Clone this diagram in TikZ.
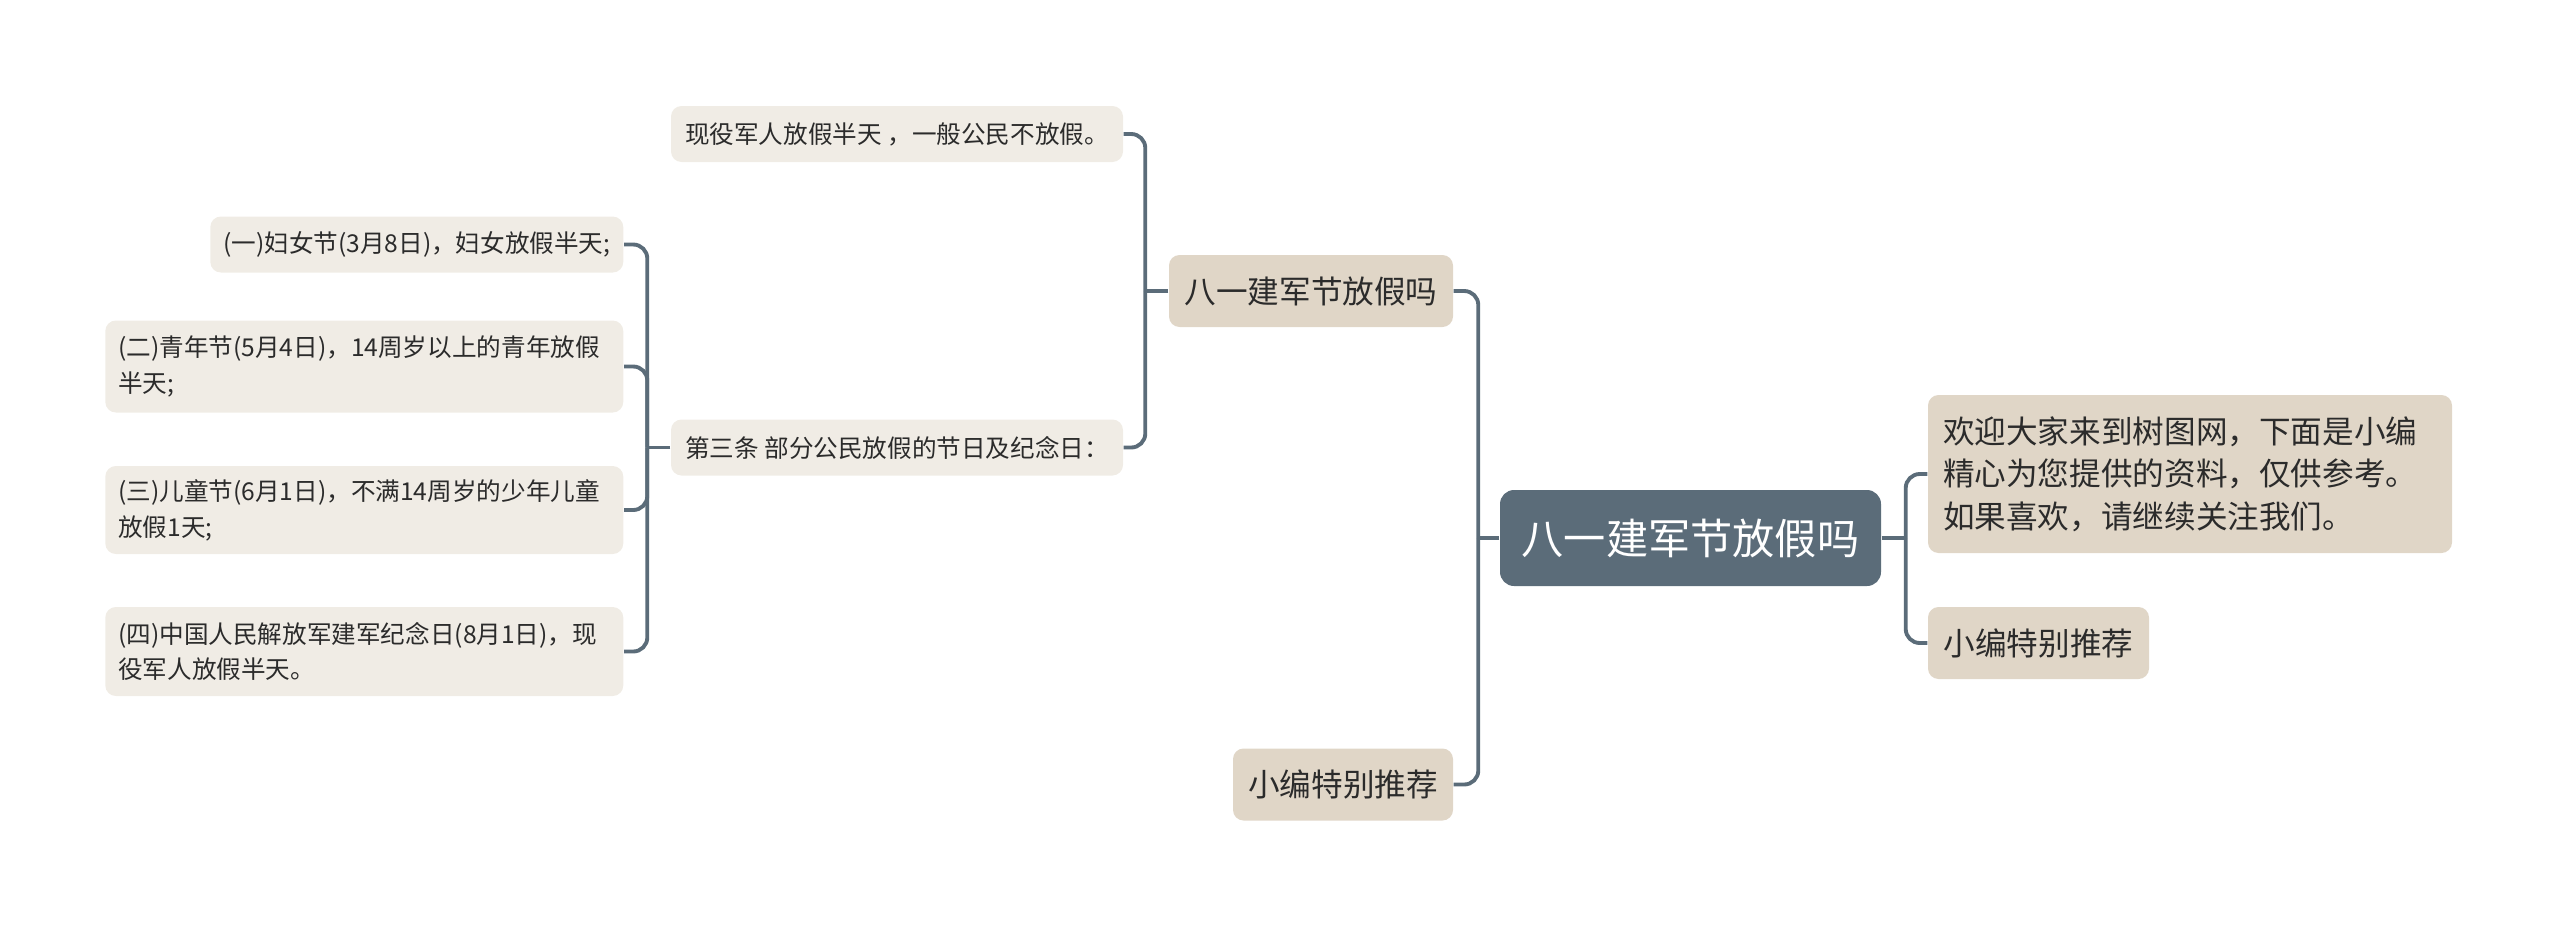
\documentclass[tikz,border=0pt]{standalone}
\usepackage{fontspec}
\setmainfont{Noto Sans CJK SC}
\usetikzlibrary{positioning}

\definecolor{slate}{HTML}{5B6C79}
\definecolor{beige}{HTML}{E0D6C7}
\definecolor{paper}{HTML}{F0ECE5}
\definecolor{ink}{HTML}{2B2B2B}

\begin{document}
\begin{tikzpicture}[x=1cm,y=-1cm]
  \tikzstyle{topic}=[fill=slate,text=white,rounded corners=4pt,inner sep=0pt,
    font=\fontsize{12}{15}\selectfont,minimum width=3.81cm,minimum height=0.96cm]
  \tikzstyle{sub}=[fill=beige,text=ink,rounded corners=3pt,inner sep=0pt,
    font=\fontsize{9}{12.1}\selectfont,minimum height=0.72cm]
  \tikzstyle{leaf}=[fill=paper,text=ink,rounded corners=3pt,inner sep=0pt,
    font=\fontsize{7}{10.2}\selectfont,minimum height=0.56cm]
  \tikzstyle{conn}=[draw=slate,line width=1.1pt,rounded corners=4pt]

  \useasboundingbox (0,0) rectangle (25.6,9.29);

  % root and its branches
  \node[topic] (root) at (16.905,5.38) {八一建军节放假吗};

  \node[sub,minimum width=5.24cm,minimum height=1.58cm,text width=4.94cm,align=left]
    (welcome) at (21.90,4.74) {欢迎大家来到树图网，下面是小编\\精心为您提供的资料，仅供参考。\\如果喜欢，请继续关注我们。};
  \node[sub,minimum width=2.21cm] (recr) at (20.385,6.43) {小编特别推荐};

  \node[sub,minimum width=2.84cm] (festq) at (13.11,2.91) {八一建军节放假吗};
  \node[sub,minimum width=2.20cm] (recl) at (13.43,7.845) {小编特别推荐};

  \node[leaf,minimum width=4.52cm] (army) at (8.97,1.34) {现役军人放假半天 ，一般公民不放假。};
  \node[leaf,minimum width=4.52cm] (art3) at (8.97,4.475) {第三条 部分公民放假的节日及纪念日：};

  % holidays
  \node[leaf,anchor=east,minimum width=4.13cm] (it1) at (6.24,2.445) {(一)妇女节(3月8日)，妇女放假半天;};
  \node[leaf,anchor=east,minimum width=5.18cm,minimum height=0.92cm,text width=4.92cm,align=left]
    (it2) at (6.24,3.665) {(二)青年节(5月4日)，14周岁以上的青年放假\\半天;};
  \node[leaf,anchor=east,minimum width=5.18cm,minimum height=0.88cm,text width=4.92cm,align=left]
    (it3) at (6.24,5.10) {(三)儿童节(6月1日)，不满14周岁的少年儿童\\放假1天;};
  \node[leaf,anchor=east,minimum width=5.18cm,minimum height=0.89cm,text width=4.92cm,align=left]
    (it4) at (6.24,6.515) {(四)中国人民解放军建军纪念日(8月1日)，现\\役军人放假半天。};

  % junctions
  \coordinate[right=0.24cm of root.east] (rj);
  \coordinate[left=0.21cm of root.west] (lj);
  \coordinate[left=0.23cm of festq.west] (fj);
  \coordinate[left=0.23cm of art3.west] (aj);

  \draw[conn] (root.east) -- (rj);
  \draw[conn] (rj) |- (welcome.west);
  \draw[conn] (rj) |- (recr.west);

  \draw[conn] (root.west) -- (lj);
  \draw[conn] (lj) |- (festq.east);
  \draw[conn] (lj) |- (recl.east);

  \draw[conn] (festq.west) -- (fj);
  \draw[conn] (fj) |- (army.east);
  \draw[conn] (fj) |- (art3.east);

  \draw[conn] (art3.west) -- (aj);
  \foreach \k in {it1,it2,it3,it4}
    \draw[conn] (aj) |- (\k.east);
\end{tikzpicture}
\end{document}
